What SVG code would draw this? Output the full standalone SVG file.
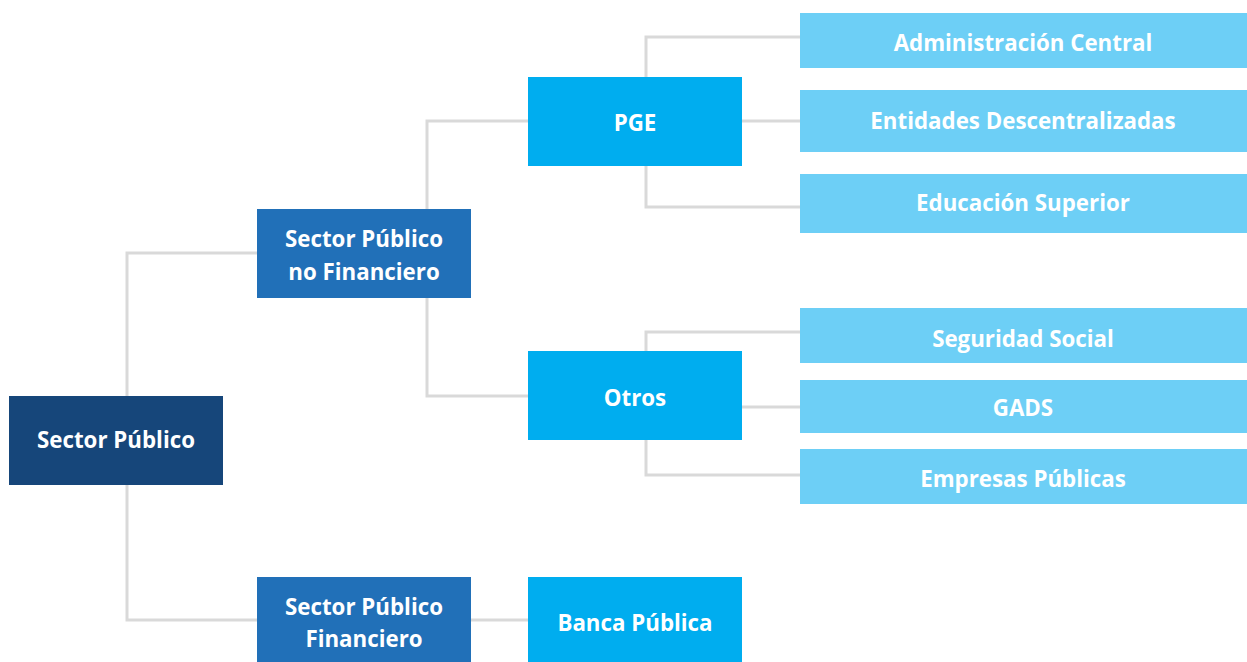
<svg xmlns="http://www.w3.org/2000/svg" width="1247" height="662" viewBox="0 0 1247 662">
<style>
text{font-family:"Open Sans","Liberation Sans",sans-serif;font-weight:700;font-size:22.3px;fill:#fff;text-anchor:middle}
.c{fill:none;stroke:#d9d9d9;stroke-width:3}
.d{fill:#16467a}.m{fill:#2170b8}.b{fill:#00adef}.l{fill:#6dcff6}
</style>
<rect width="1247" height="662" fill="#fff"/>
<g id="connectors">
<path class="c" d="M127,396 V253 H257 M127,485 V620 H257"/>
<path class="c" d="M427,209 V121 H528 M427,298 V396 H528"/>
<path class="c" d="M471,620 H528"/>
<path class="c" d="M646,77 V37 H800 M742,121 H800 M646,166 V207 H800"/>
<path class="c" d="M646,351 V332 H800 M742,407 H800 M646,440 V475 H800"/>
</g>
<g id="sp"><rect class="d" x="9" y="396" width="214" height="89"/><text x="116" y="448">Sector Público</text></g>
<g id="spnf"><rect class="m" x="257" y="209" width="214" height="89"/><text x="364" y="247">Sector Público</text><text x="364" y="280">no Financiero</text></g>
<g id="spf"><rect class="m" x="257" y="577" width="214" height="85"/><text x="364" y="615">Sector Público</text><text x="364" y="647">Financiero</text></g>
<g id="pge"><rect class="b" x="528" y="77" width="214" height="89"/><text x="635" y="131">PGE</text></g>
<g id="otros"><rect class="b" x="528" y="351" width="214" height="89"/><text x="635" y="406">Otros</text></g>
<g id="banca"><rect class="b" x="528" y="577" width="214" height="85"/><text x="635" y="631">Banca Pública</text></g>
<g id="admin"><rect class="l" x="800" y="13" width="447" height="55"/><text x="1023" y="51">Administración Central</text></g>
<g id="entidades"><rect class="l" x="800" y="90" width="447" height="62"/><text x="1023" y="129">Entidades Descentralizadas</text></g>
<g id="educacion"><rect class="l" x="800" y="174" width="447" height="59"/><text x="1023" y="211">Educación Superior</text></g>
<g id="seguridad"><rect class="l" x="800" y="308" width="447" height="55"/><text x="1023" y="347">Seguridad Social</text></g>
<g id="gads"><rect class="l" x="800" y="380" width="447" height="53"/><text x="1023" y="416">GADS</text></g>
<g id="empresas"><rect class="l" x="800" y="449" width="447" height="55"/><text x="1023" y="487">Empresas Públicas</text></g>
</svg>
